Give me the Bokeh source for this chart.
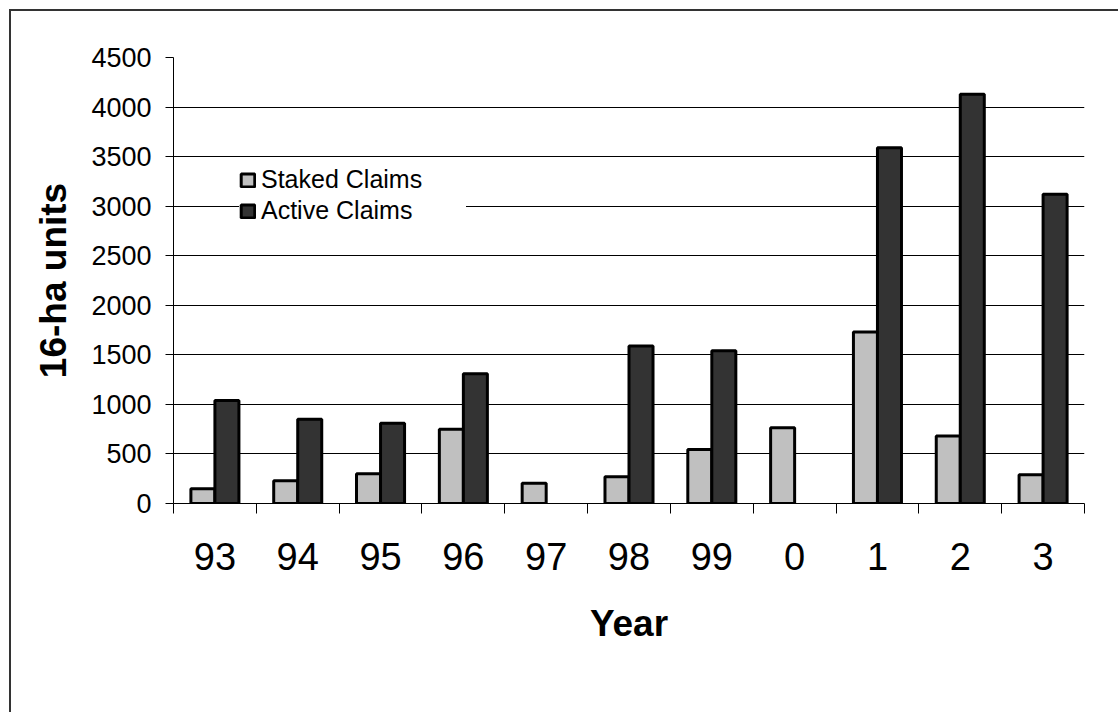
import numpy as np
from bokeh.plotting import figure
from bokeh.models import ColumnDataSource, Range1d, FixedTicker, LinearAxis, Legend, LegendItem
from bokeh.transform import dodge
from bokeh.embed import file_html
from bokeh.resources import INLINE

# ---- data ----
years = ["93", "94", "95", "96", "97", "98", "99", "0", "1", "2", "3"]
staked = [150, 230, 300, 750, 205, 270, 545, 765, 1730, 680, 290]
active = [1040, 850, 810, 1310, float("nan"), 1590, 1540, float("nan"), 3590, 4130, 3120]
y_ticks = [0, 500, 1000, 1500, 2000, 2500, 3000, 3500, 4000, 4500]

FONT = "Liberation Sans"
pos = [i + 0.5 for i in range(len(years))]
src = ColumnDataSource(dict(pos=pos, staked=staked, active=active))

p = figure(width=1118, height=712, output_backend="svg", toolbar_location=None,
           x_range=Range1d(0, len(years)), y_range=Range1d(0, y_ticks[-1]),
           min_border_left=173, min_border_right=34, min_border_top=57, min_border_bottom=209,
           background_fill_color=None, border_fill_color=None, outline_line_color=None,
           styles={"background-image": "linear-gradient(#333333,#333333), linear-gradient(#333333,#333333)",
                   "background-size": "100% 2px, 2px 100%",
                   "background-position": "9px 9px, 9px 9px",
                   "background-repeat": "no-repeat",
                   "background-color": "white"})

r1 = p.vbar(x=dodge("pos", -0.145), top="staked", width=0.29, source=src,
            fill_color="#C0C0C0", line_color="black", line_width=3)
r2 = p.vbar(x=dodge("pos", 0.145), top="active", width=0.29, source=src,
            fill_color="#333333", line_color="black", line_width=3)

# y axis
ya = p.yaxis[0]
ya.ticker = FixedTicker(ticks=y_ticks)
ya.axis_line_color = "black"
ya.major_tick_out = 8
ya.major_tick_in = 0
ya.minor_tick_line_color = None
ya.major_label_standoff = 14
ya.major_label_text_font = FONT
ya.major_label_text_font_size = "27px"
ya.major_label_text_color = "black"
ya.axis_label = "16-ha units"
ya.axis_label_text_font = FONT
ya.axis_label_text_font_size = "37px"
ya.axis_label_text_font_style = "bold"
ya.axis_label_text_color = "black"
ya.axis_label_standoff = 14

p.ygrid.ticker = FixedTicker(ticks=y_ticks)
p.ygrid.grid_line_color = "black"
p.ygrid.grid_line_width = 1
p.xgrid.grid_line_color = None

# x axis: tick marks between categories
xa = p.xaxis[0]
xa.ticker = FixedTicker(ticks=list(range(len(years) + 1)))
xa.axis_line_color = "black"
xa.major_tick_out = 10
xa.major_tick_in = 0
xa.minor_tick_line_color = None
xa.major_label_text_font_size = "0px"
xa.major_label_overrides = {i: "" for i in range(len(years) + 1)}
xa.major_label_standoff = 0

# x axis: category labels
xl = LinearAxis(ticker=FixedTicker(ticks=pos),
                major_label_overrides={pp: y for pp, y in zip(pos, years)})
xl.axis_line_color = None
xl.major_tick_line_color = None
xl.minor_tick_line_color = None
xl.major_tick_out = 0
xl.major_tick_in = 0
xl.major_label_standoff = 29
xl.major_label_text_font = FONT
xl.major_label_text_font_size = "38px"
xl.major_label_text_color = "black"
xl.axis_label = "Year"
xl.axis_label_text_font = FONT
xl.axis_label_text_font_size = "37px"
xl.axis_label_text_font_style = "bold"
xl.axis_label_text_color = "black"
xl.axis_label_standoff = 30
p.add_layout(xl, "below")

legend = Legend(items=[LegendItem(label="Staked Claims", renderers=[r1]),
                       LegendItem(label="Active Claims", renderers=[r2])],
                location=(66, 278), padding=4, spacing=2, margin=0,
                glyph_width=17, glyph_height=16, label_standoff=5,
                label_text_font=FONT, label_text_font_size="25px",
                label_text_color="black", label_width=205,
                border_line_color=None, background_fill_color="white",
                background_fill_alpha=1.0)
p.add_layout(legend, "center")

open("out.html", "w").write(file_html(p, INLINE))
